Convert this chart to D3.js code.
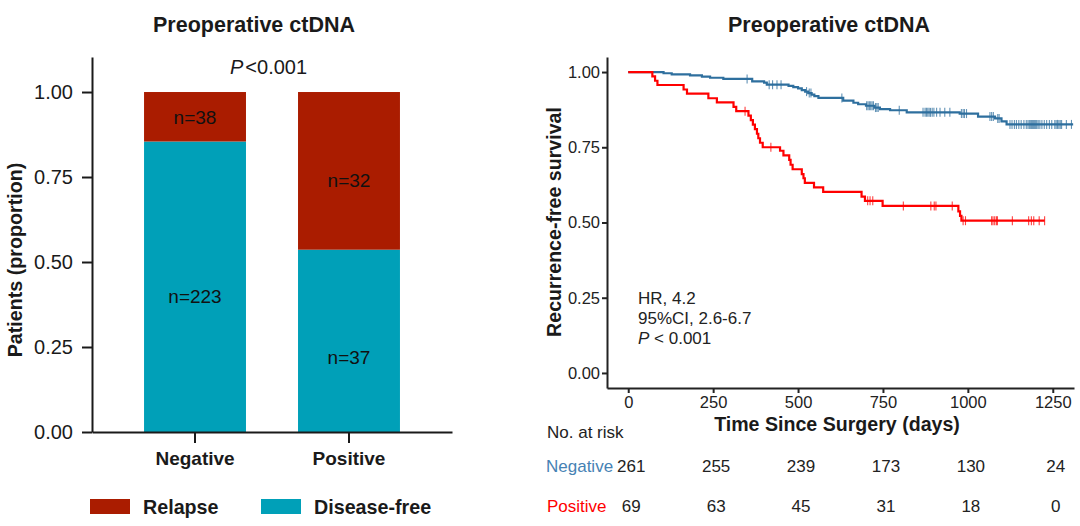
<!DOCTYPE html>
<html><head><meta charset="utf-8">
<script src="https://cdn.jsdelivr.net/npm/d3@7"></script>
<style>
body{margin:0;background:#fff;}
text{font-family:"Liberation Sans",Arial,sans-serif;}
</style></head>
<body><svg id="c" width="1080" height="526"></svg>
<script>
// ---------- data: left (stacked proportions) ----------
const groups = ["Negative", "Positive"];
const relapseN = [38, 32];
const diseaseFreeN = [223, 37];
const stackKeys = ["Disease-free", "Relapse"];
const barYTicks = [0, 0.25, 0.5, 0.75, 1.0];

// ---------- data: right (Kaplan-Meier) ----------
const negTimes = [0,104,128,182,217,241,280,365,400,408,472,486,500,511,521,530,540,548,560,633,663,677,700,725,741,771,820,976,1030,1080,1099,1114];
const negSurv  = [1,0.996,0.992,0.989,0.985,0.981,0.977,0.969,0.965,0.958,0.954,0.950,0.946,0.940,0.935,0.930,0.925,0.920,0.914,0.905,0.898,0.893,0.888,0.882,0.877,0.873,0.866,0.862,0.852,0.846,0.836,0.826];
const negEnd = 1310;
const negCensor = [350,415,425,438,450,525,533,538,629,702,706,710,714,718,722,728,732,736,798,868,874,878,882,886,890,895,900,908,918,932,947,981,986,990,996,1065,1070,1075,1088,1092,1124,1130,1137,1143,1150,1157,1165,1172,1177,1181,1185,1188,1191,1194,1197,1200,1203,1207,1212,1218,1225,1232,1240,1247,1256,1260,1264,1268,1272,1276,1290,1305];

const posTimes = [0,71,79,86,163,173,236,261,310,318,354,361,367,373,379,383,388,396,447,457,474,478,484,511,516,520,547,574,687,697,749,972,977,981];
const posSurv  = [1,0.9855,0.971,0.957,0.942,0.928,0.913,0.899,0.884,0.870,0.855,0.840,0.825,0.810,0.795,0.780,0.765,0.750,0.7385,0.723,0.708,0.692,0.677,0.661,0.647,0.632,0.617,0.602,0.586,0.572,0.555,0.537,0.522,0.506];
const posEnd = 1226;
const posCensor = [344,420,705,712,720,810,891,901,906,954,986,993,1070,1074,1079,1084,1087,1131,1179,1187,1194,1210,1226];

const kmXTicks = [0,250,500,750,1000,1250];
const kmYTicks = [0,0.25,0.5,0.75,1.0];
const riskTimes = [0,250,500,750,1000,1250];
const riskNeg = [261,255,239,173,130,24];
const riskPos = [69,63,45,31,18,0];

// ---------- styles ----------
const cRelapse = "#AA1C00", cFree = "#00A0B8";
const cNeg = "#2E6F9E", cNegLbl = "#4682B4", cPos = "#FF0000";
const ink = "#1a1a1a";

const svg = d3.select("#c");

// ================= LEFT CHART =================
const xL = d3.scaleBand().domain(groups).range([92, 452]).padding(0.338);
const yL = d3.scaleLinear().domain([0, 1.103]).range([432, 57]);

const rows = groups.map((g,i)=>{
  const tot = relapseN[i] + diseaseFreeN[i];
  return {group:g, "Disease-free": diseaseFreeN[i]/tot, "Relapse": relapseN[i]/tot};
});
const stacked = d3.stack().keys(stackKeys)(rows);
const colorL = d3.scaleOrdinal().domain(stackKeys).range([cFree, cRelapse]);

const gL = svg.append("g");
gL.selectAll("g.layer").data(stacked).join("g").attr("fill", d=>colorL(d.key))
  .selectAll("rect").data(d=>d).join("rect")
  .attr("x", d=>xL(d.data.group)).attr("width", xL.bandwidth())
  .attr("y", d=>yL(d[1])).attr("height", d=>yL(d[0])-yL(d[1]));

// n labels
const nLabels = [
  {g:"Negative", t:"n="+relapseN[0], v:0.925},
  {g:"Negative", t:"n="+diseaseFreeN[0], v:0.40},
  {g:"Positive", t:"n="+relapseN[1], v:0.74},
  {g:"Positive", t:"n="+diseaseFreeN[1], v:0.22}
];
gL.selectAll("text.n").data(nLabels).join("text")
  .attr("x", d=>xL(d.g)+xL.bandwidth()/2).attr("y", d=>yL(d.v)).attr("dy","0.36em")
  .attr("text-anchor","middle").attr("font-size",19).attr("fill","#111").text(d=>d.t);

// axes
const axYL = gL.append("g").attr("transform","translate(92,0)")
  .call(d3.axisLeft(yL).tickValues(barYTicks).tickFormat(d3.format(".2f")).tickSize(10).tickPadding(9).tickSizeOuter(0));
axYL.selectAll("text").attr("font-size",20).attr("fill",ink).attr("font-family","Liberation Sans, Arial, sans-serif");
axYL.selectAll("line,path").attr("stroke",ink).attr("stroke-width",2);

const axXL = gL.append("g").attr("transform","translate(0,432)")
  .call(d3.axisBottom(xL).tickSize(11).tickPadding(9).tickSizeOuter(0));
axXL.selectAll("text").attr("font-size",19).attr("font-weight","bold").attr("fill",ink).attr("font-family","Liberation Sans, Arial, sans-serif");
axXL.selectAll("line,path").attr("stroke",ink).attr("stroke-width",2);

// title, P, y label
gL.append("text").attr("x",254).attr("y",32).attr("text-anchor","middle")
  .attr("font-size",21.5).attr("font-weight","bold").attr("fill",ink).text("Preoperative ctDNA");
const pT = gL.append("text").attr("x",230).attr("y",74).attr("font-size",20).attr("fill",ink);
pT.append("tspan").attr("font-style","italic").text("P");
pT.append("tspan").attr("dx",2).text("<0.001");
gL.append("text").attr("transform","translate(22,260) rotate(-90)").attr("text-anchor","middle")
  .attr("font-size",19.7).attr("font-weight","bold").attr("fill",ink).text("Patients (proportion)");

// legend
const legItems = [{k:"Relapse", x:90}, {k:"Disease-free", x:261}];
const lg = gL.selectAll("g.leg").data(legItems).join("g").attr("transform",d=>`translate(${d.x},499)`);
lg.append("rect").attr("width",40).attr("height",15).attr("fill",d=>colorL(d.k));
lg.append("text").attr("x",53).attr("y",7.5).attr("dy","0.36em").attr("font-size",19.7)
  .attr("font-weight","bold").attr("fill",ink).text(d=>d.k);

// ================= RIGHT CHART =================
const xR = d3.scaleLinear().domain([-62.5, 1312.5]).range([607, 1074]);
const yR = d3.scaleLinear().domain([-0.05, 1.05]).range([388, 57]);
const gR = svg.append("g");

const axYR = gR.append("g").attr("transform","translate(607,0)")
  .call(d3.axisLeft(yR).tickValues(kmYTicks).tickFormat(d3.format(".2f")).tickSize(5).tickPadding(2).tickSizeOuter(0));
axYR.selectAll("text").attr("font-size",16.5).attr("fill","#222").attr("font-family","Liberation Sans, Arial, sans-serif");
axYR.selectAll("line,path").attr("stroke","#222").attr("stroke-width",2);
const axXR = gR.append("g").attr("transform","translate(0,388)")
  .call(d3.axisBottom(xR).tickValues(kmXTicks).tickFormat(d3.format("d")).tickSize(5).tickPadding(3).tickSizeOuter(0));
axXR.selectAll("text").attr("font-size",16.5).attr("fill","#222").attr("font-family","Liberation Sans, Arial, sans-serif");
axXR.selectAll("line,path").attr("stroke","#222").attr("stroke-width",2);

function drawKM(times, surv, end, censor, color){
  const pts = times.map((t,i)=>[t, surv[i]]);
  pts.push([end, surv[surv.length-1]]);
  gR.append("path").datum(pts).attr("fill","none").attr("stroke",color).attr("stroke-width",2.2)
    .attr("d", d3.line().x(d=>xR(d[0])).y(d=>yR(d[1])).curve(d3.curveStepAfter));
  gR.append("g").selectAll("line").data(censor).join("line")
    .attr("x1",d=>xR(d)).attr("x2",d=>xR(d))
    .attr("y1",d=>yR(surv[d3.bisectRight(times,d)-1])-4.5)
    .attr("y2",d=>yR(surv[d3.bisectRight(times,d)-1])+4.5)
    .attr("stroke",color).attr("stroke-width",1.1).attr("opacity",0.75);
}
drawKM(negTimes, negSurv, negEnd, negCensor, cNeg);
drawKM(posTimes, posSurv, posEnd, posCensor, cPos);

gR.append("text").attr("x",829).attr("y",32).attr("text-anchor","middle")
  .attr("font-size",21.5).attr("font-weight","bold").attr("fill",ink).text("Preoperative ctDNA");
gR.append("text").attr("transform","translate(561,222) rotate(-90)").attr("text-anchor","middle")
  .attr("font-size",19.6).attr("font-weight","bold").attr("fill",ink).text("Recurrence-free survival");
gR.append("text").attr("x",837).attr("y",431).attr("text-anchor","middle")
  .attr("font-size",19.6).attr("font-weight","bold").attr("fill",ink).text("Time Since Surgery (days)");

// annotation
const ann = gR.append("g").attr("font-size",17).attr("fill","#222");
ann.append("text").attr("x",638).attr("y",304).text("HR, 4.2");
ann.append("text").attr("x",638).attr("y",324).text("95%CI, 2.6-6.7");
const pa = ann.append("text").attr("x",638).attr("y",344);
pa.append("tspan").attr("font-style","italic").text("P");
pa.append("tspan").text(" < 0.001");

// risk table
gR.append("text").attr("x",547).attr("y",438).attr("font-size",17).attr("fill","#222").text("No. at risk");
gR.append("text").attr("x",546).attr("y",472).attr("font-size",17).attr("fill",cNegLbl).text("Negative");
gR.append("text").attr("x",547).attr("y",512).attr("font-size",17).attr("fill",cPos).text("Positive");
gR.append("g").selectAll("text").data(riskTimes).join("text")
  .attr("x",(d)=>xR(d)+3).attr("y",472).attr("text-anchor","middle").attr("font-size",17).attr("fill","#222")
  .text((d,i)=>riskNeg[i]);
gR.append("g").selectAll("text").data(riskTimes).join("text")
  .attr("x",(d)=>xR(d)+3).attr("y",512).attr("text-anchor","middle").attr("font-size",17).attr("fill","#222")
  .text((d,i)=>riskPos[i]);
</script></body></html>
